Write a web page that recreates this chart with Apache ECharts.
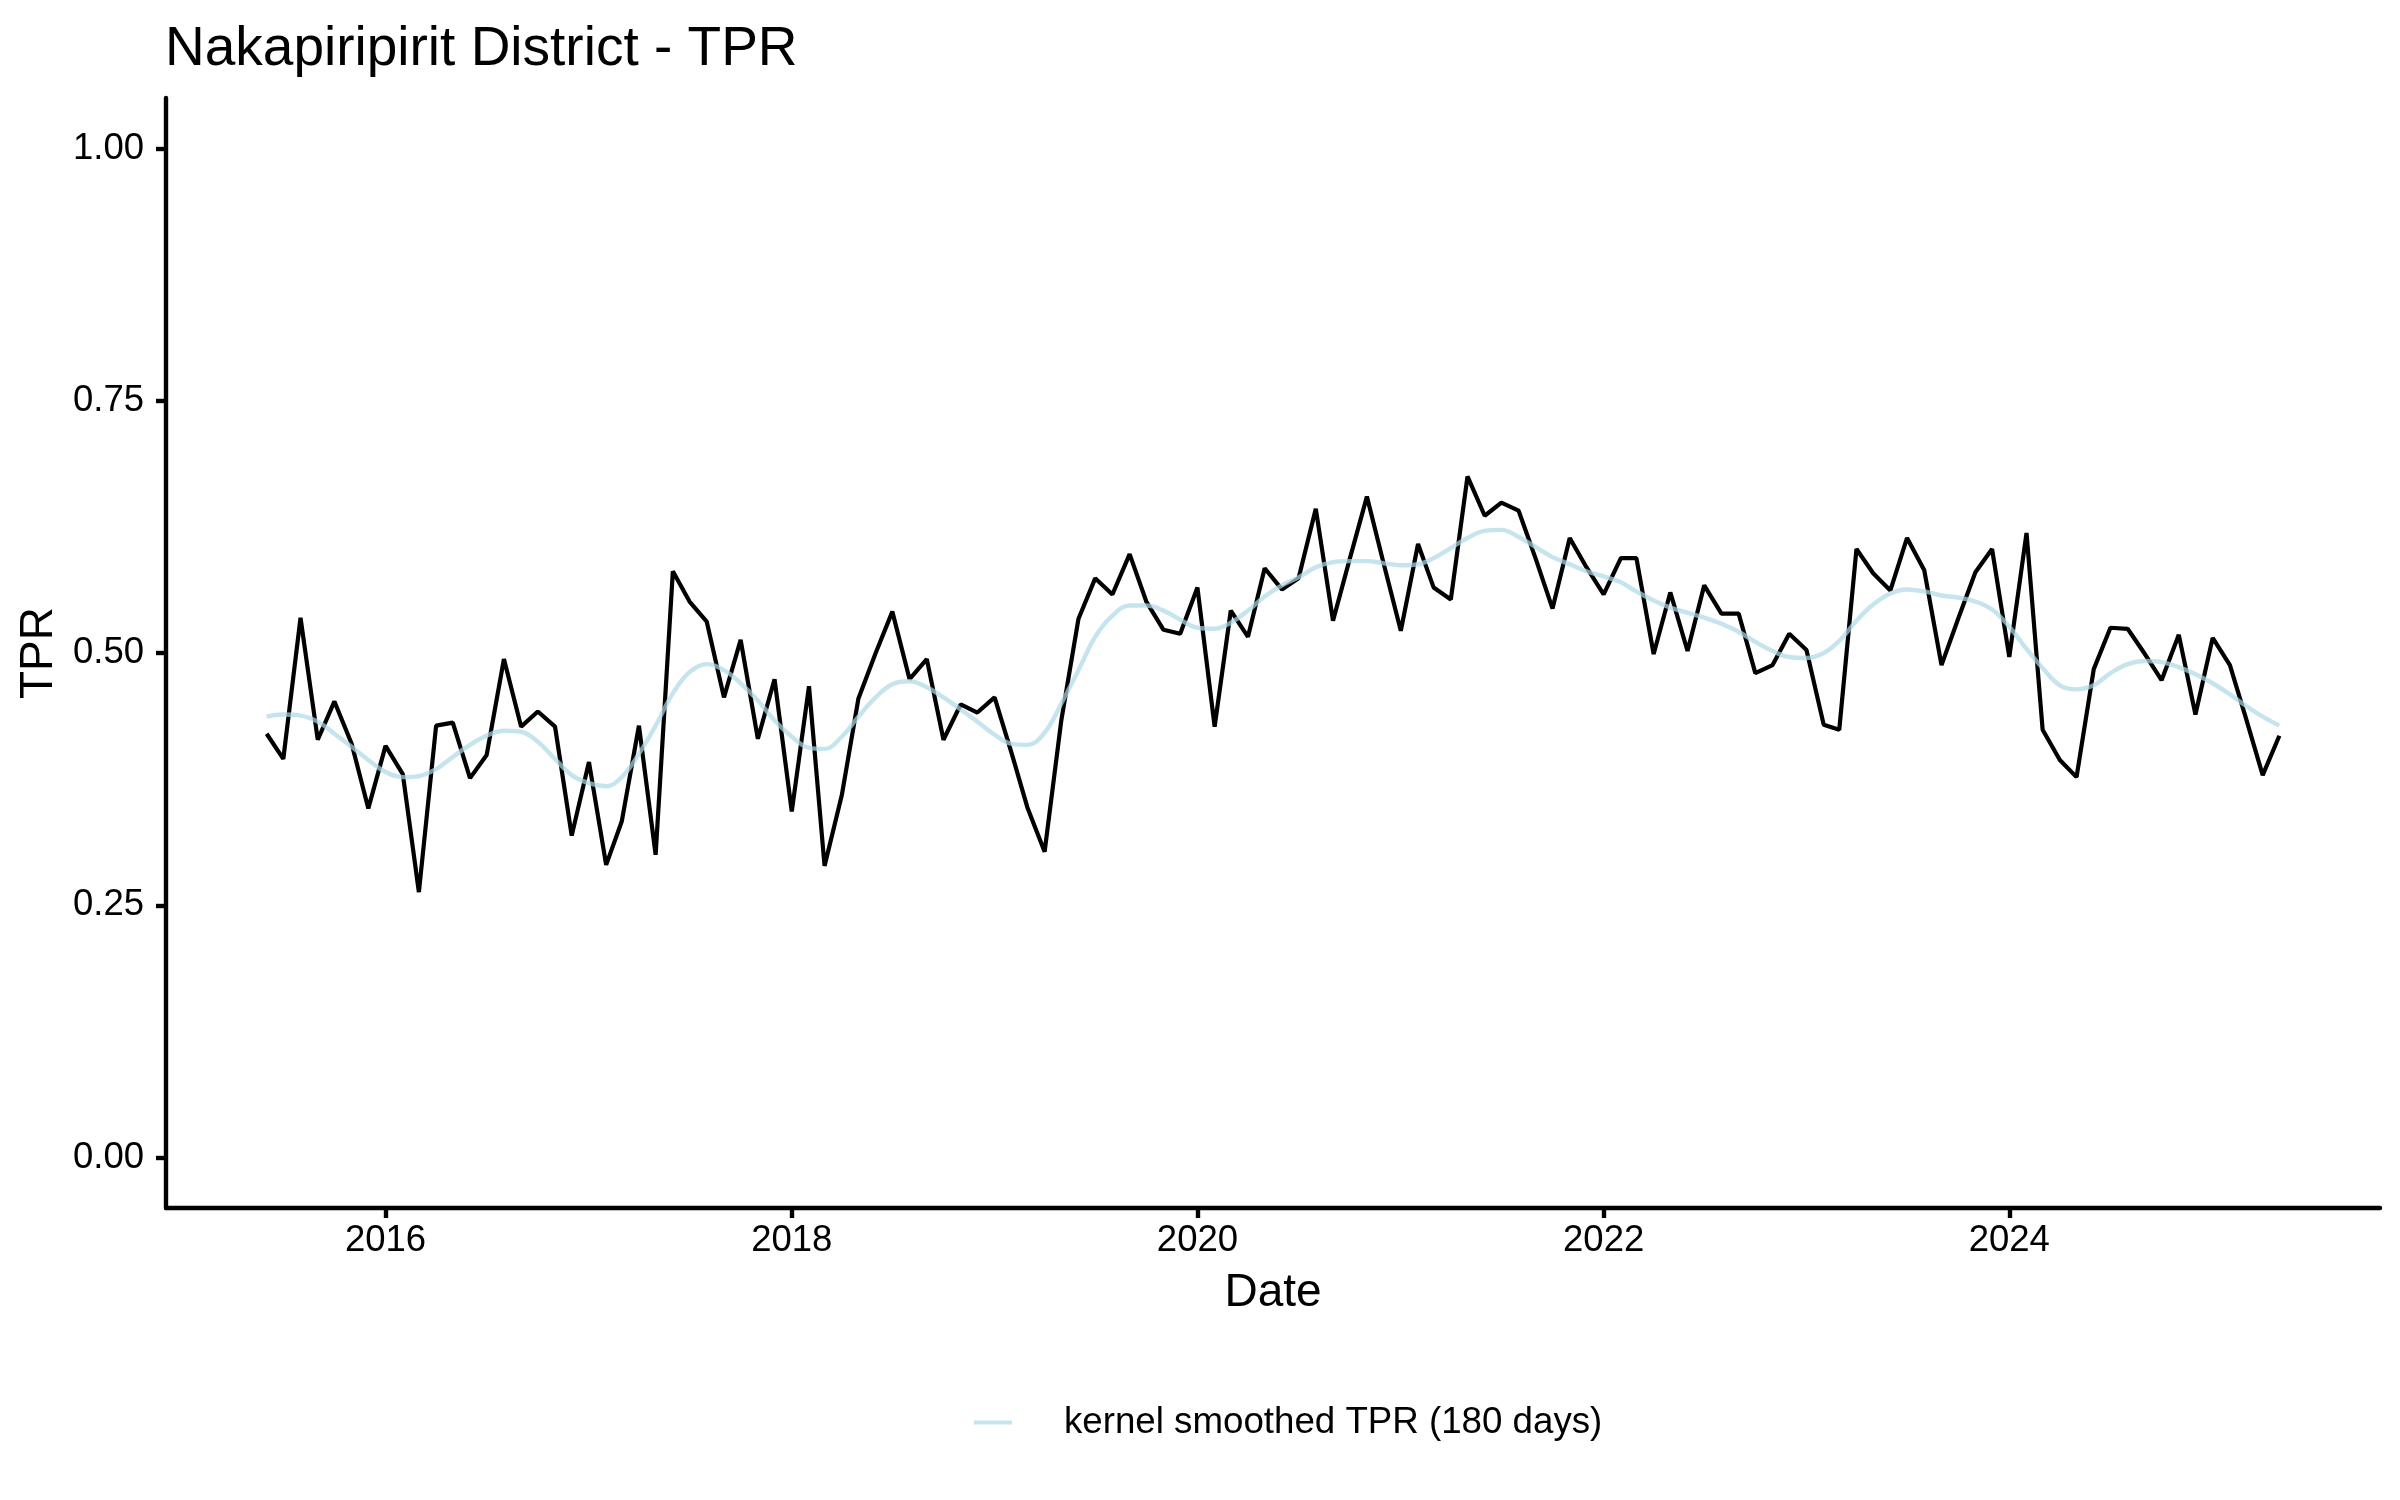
<!DOCTYPE html>
<html>
<head>
<meta charset="utf-8">
<script src="https://cdn.jsdelivr.net/npm/echarts@6/dist/echarts.min.js"></script>
<style>
html,body{margin:0;padding:0;background:#fff;}
#chart{width:2400px;height:1500px;}
</style>
</head>
<body>
<div id="chart"></div>
<script>
var months = [
'2015-06','2015-07','2015-08','2015-09','2015-10','2015-11','2015-12',
'2016-01','2016-02','2016-03','2016-04','2016-05','2016-06','2016-07','2016-08','2016-09','2016-10','2016-11','2016-12',
'2017-01','2017-02','2017-03','2017-04','2017-05','2017-06','2017-07','2017-08','2017-09','2017-10','2017-11','2017-12',
'2018-01','2018-02','2018-03','2018-04','2018-05','2018-06','2018-07','2018-08','2018-09','2018-10','2018-11','2018-12',
'2019-01','2019-02','2019-03','2019-04','2019-05','2019-06','2019-07','2019-08','2019-09','2019-10','2019-11','2019-12',
'2020-01','2020-02','2020-03','2020-04','2020-05','2020-06','2020-07','2020-08','2020-09','2020-10','2020-11','2020-12',
'2021-01','2021-02','2021-03','2021-04','2021-05','2021-06','2021-07','2021-08','2021-09','2021-10','2021-11','2021-12',
'2022-01','2022-02','2022-03','2022-04','2022-05','2022-06','2022-07','2022-08','2022-09','2022-10','2022-11','2022-12',
'2023-01','2023-02','2023-03','2023-04','2023-05','2023-06','2023-07','2023-08','2023-09','2023-10','2023-11','2023-12',
'2024-01','2024-02','2024-03','2024-04','2024-05','2024-06','2024-07','2024-08','2024-09','2024-10','2024-11','2024-12',
'2025-01','2025-02','2025-03','2025-04','2025-05'
];

var tpr = [
0.420,0.395,0.535,0.414,0.452,0.410,0.346,0.408,0.380,0.263,
0.428,0.431,0.376,0.399,0.494,0.427,0.442,0.427,0.319,0.392,
0.290,0.333,0.428,0.300,0.581,0.551,0.531,0.456,0.513,0.415,
0.474,0.343,0.467,0.289,0.359,0.455,0.500,0.541,0.474,0.494,
0.414,0.449,0.441,0.456,0.400,0.347,0.303,0.433,0.534,0.574,
0.558,0.598,0.551,0.523,0.519,0.565,0.427,0.542,0.516,0.584,
0.563,0.574,0.643,0.532,0.593,0.655,0.589,0.522,0.608,0.565,
0.553,0.675,0.636,0.649,0.641,0.593,0.544,0.614,0.585,0.558,
0.594,0.594,0.499,0.560,0.502,0.567,0.539,0.539,0.480,0.488,
0.519,0.503,0.429,0.424,0.603,0.579,0.562,0.614,0.582,0.488,
0.534,0.580,0.603,0.496,0.619,0.424,0.394,0.377,0.484,0.525,
0.524,0.499,0.473,0.518,0.439,0.515,0.488,0.437,0.379,0.418
];

var smoothTpr = [
0.437,0.439,0.438,0.432,0.420,0.407,0.394,0.382,0.377,0.378,
0.385,0.397,0.409,0.418,0.423,0.422,0.412,0.395,0.379,0.371,
0.368,0.377,0.400,0.428,0.460,0.481,0.489,0.483,0.470,0.453,
0.433,0.417,0.406,0.405,0.417,0.437,0.456,0.469,0.472,0.466,
0.456,0.444,0.432,0.419,0.410,0.409,0.421,0.450,0.483,0.516,
0.537,0.547,0.547,0.542,0.533,0.525,0.524,0.530,0.542,0.556,
0.567,0.575,0.585,0.590,0.591,0.591,0.589,0.587,0.588,0.594,
0.604,0.614,0.621,0.622,0.615,0.605,0.595,0.588,0.581,0.576,
0.570,0.561,0.552,0.545,0.540,0.535,0.529,0.521,0.511,0.502,
0.496,0.495,0.500,0.512,0.532,0.548,0.559,0.563,0.561,0.557,
0.555,0.551,0.543,0.526,0.504,0.485,0.468,0.464,0.468,0.480,
0.489,0.492,0.491,0.486,0.479,0.470,0.459,0.448,0.437,0.428
];

var xTickYears = [2016, 2018, 2020, 2022, 2024];
var yTicks = [0, 0.25, 0.5, 0.75, 1.0];
var yTickLabels = ['0.00', '0.25', '0.50', '0.75', '1.00'];

function toTime(s) {
  var p = s.split('-');
  return Date.UTC(+p[0], +p[1] - 1, 1);
}
var tprData = months.map(function (m, i) { return [toTime(m), tpr[i]]; });
var smoothData = months.map(function (m, i) { return [toTime(m), smoothTpr[i]]; });
var xTickValues = xTickYears.map(function (y) { return Date.UTC(y, 0, 1); });

var FONT = 'Liberation Sans, Arial, sans-serif';
var chart = echarts.init(document.getElementById('chart'), null, { renderer: 'canvas' });

chart.setOption({
  backgroundColor: '#ffffff',
  animation: false,
  title: {
    text: 'Nakapiripirit District - TPR',
    left: 160,
    top: 17,
    textStyle: { fontFamily: FONT, fontSize: 55, fontWeight: 'normal', color: '#000' }
  },
  legend: {
    show: true,
    data: [{ name: 'kernel smoothed TPR (180 days)', icon: 'rect' }],
    orient: 'horizontal',
    left: 969,
    top: 1399,
    itemWidth: 38,
    itemHeight: 4,
    itemGap: 10,
    itemStyle: { color: '#C6E4ED', opacity: 1 },
    textStyle: { fontFamily: FONT, fontSize: 36.7, color: '#000', padding: [0, 0, 0, 47] }
  },
  grid: { left: 166, right: 20, top: 98, bottom: 292, containLabel: false },
  xAxis: {
    type: 'value',
    name: 'Date',
    nameLocation: 'middle',
    nameGap: 62,
    nameTextStyle: { fontFamily: FONT, fontSize: 46, color: '#000' },
    min: function (e) { return e.min - 0.05 * (e.max - e.min); },
    max: function (e) { return e.max + 0.05 * (e.max - e.min); },
    axisLine: { show: true, onZero: false, lineStyle: { color: '#000', width: 4.4 } },
    axisTick: { show: true, length: 10, customValues: xTickValues, lineStyle: { color: '#000', width: 4.4 } },
    axisLabel: {
      customValues: xTickValues,
      margin: 14,
      fontFamily: FONT, fontSize: 36.5, color: '#000',
      formatter: function (v) { return String(new Date(v).getUTCFullYear()); }
    },
    splitLine: { show: false }
  },
  yAxis: {
    type: 'value',
    name: 'TPR',
    nameLocation: 'middle',
    nameGap: 104,
    nameTextStyle: { fontFamily: FONT, fontSize: 46, color: '#000' },
    min: -0.05,
    max: 1.05,
    axisLine: { show: true, onZero: false, lineStyle: { color: '#000', width: 4.4 } },
    axisTick: { show: true, length: 10, customValues: yTicks, lineStyle: { color: '#000', width: 4.4 } },
    axisLabel: {
      customValues: yTicks,
      margin: 22,
      fontFamily: FONT, fontSize: 36.5, color: '#000',
      formatter: function (v) {
        var i = yTicks.indexOf(Math.round(v * 100) / 100);
        return i >= 0 ? yTickLabels[i] : '';
      }
    },
    splitLine: { show: false }
  },
  series: [
    {
      name: 'TPR',
      type: 'line',
      data: tprData,
      showSymbol: false,
      symbol: 'none',
      lineStyle: { color: '#000000', width: 4.2 },
      itemStyle: { color: '#000000' },
      z: 2
    },
    {
      name: 'kernel smoothed TPR (180 days)',
      type: 'line',
      data: smoothData,
      showSymbol: false,
      symbol: 'none',
      smooth: 0.4,
      lineStyle: { color: '#ADD8E6', width: 4.4, opacity: 0.7 },
      itemStyle: { color: '#C6E4ED' },
      z: 3
    }
  ]
});
</script>
</body>
</html>
